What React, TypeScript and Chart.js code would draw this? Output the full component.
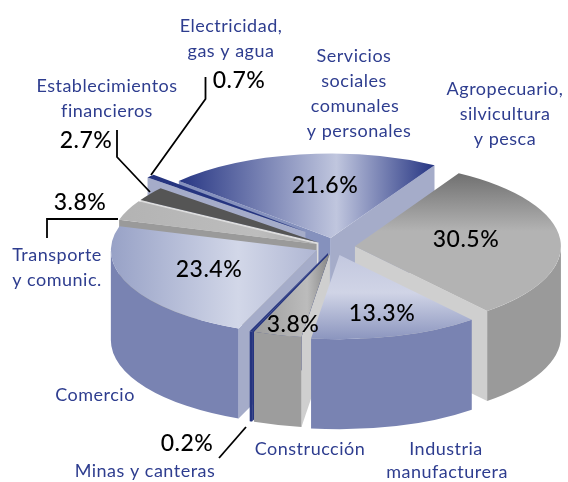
import React, { useEffect, useRef } from "react";
import { Chart, registerables } from "chart.js";

Chart.register(...registerables);

const categories = [
  "Servicios sociales comunales y personales",
  "Agropecuario, silvicultura y pesca",
  "Industria manufacturera",
  "Construcción",
  "Minas y canteras",
  "Comercio",
  "Transporte y comunic.",
  "Establecimientos financieros",
  "Electricidad, gas y agua",
];
const values = [21.6, 30.5, 13.3, 3.8, 0.2, 23.4, 3.8, 2.7, 0.7];

// Styling of the slices, same order as the values
const explode = [22, 21, 20, 16, 16, 19, 19, 19, 38];
const lift = [0, 0, 0, 0, 0, 0, 0, 0, 5];
const paintOrder = [0, 8, 7, 6, 1, 5, 4, 3, 2];
const wallColors = ["#7a85b3", "#9a9a9a", "#7983b2", "#9d9d9d", "#25347f", "#7983b2", "#8f8f8f", "#444444", "#a5acc9"];
const startFaces = ["#8591bd", "#cfcfcf", "#cfcfcf", "#cfcfcf", "#25347f", "#a5acc9", "#9a9a9a", "#dddddd", "#a5acc9"];
const endFaces = ["#a5acc9", "#cfcfcf", "#cfcfcf", "#cfcfcf", "#25347f", "#a5acc9", "#9a9a9a", "#dddddd", "#a5acc9"];
type Grad = { axis: "x" | "y"; from: number; to: number; stops: [number, string][] };
const topFills: Grad[] = [
  { axis: "x", from: -153, to: 103, stops: [[0, "#263583"], [0.62, "#c0c6de"], [1, "#263583"]] },
  { axis: "y", from: -74, to: -15, stops: [[0, "#6f6f6f"], [1, "#b3b3b3"]] },
  { axis: "y", from: 0, to: 84, stops: [[0, "#c3c8df"], [0.45, "#d0d4e6"], [1, "#8c96bf"]] },
  { axis: "x", from: -76, to: 0, stops: [[0, "#9c9c9c"], [0.7, "#bcbcbc"], [1, "#858585"]] },
  { axis: "x", from: -78, to: 0, stops: [[0, "#25347f"], [1, "#25347f"]] },
  { axis: "x", from: -207, to: 0, stops: [[0, "#97a1c6"], [0.62, "#d2d7e8"], [1, "#afb6d3"]] },
  { axis: "x", from: -197, to: 0, stops: [[0, "#b3b3b3"], [0.7, "#bdbdbd"], [1, "#a8a8a8"]] },
  { axis: "x", from: -178, to: 0, stops: [[0, "#555555"], [1, "#555555"]] },
  { axis: "x", from: -158, to: 0, stops: [[0, "#25347f"], [1, "#25347f"]] },
];

const RADIUS = 206;
const TILT = 0.41;
const DEPTH = 90;
const CENTER_X = 334;
const CENTER_Y = 247;

// Text
const BLUE = "#2e3d8f";
const NAME_FONT = "18px Lato";
const PCT_FONT = "500 23px Lato";
const nameLabels: [string, number, number][] = [
  ["Electricidad,", 231, 32],
  ["gas y agua", 231, 57],
  ["Establecimientos", 107, 92],
  ["financieros", 107, 117],
  ["Servicios", 354, 62],
  ["sociales", 354, 87],
  ["comunales", 355, 112],
  ["y personales", 359, 137],
  ["Agropecuario,", 505, 95],
  ["silvicultura", 505, 120],
  ["y pesca", 505, 145],
  ["Transporte", 57, 261],
  ["y comunic.", 57, 286],
  ["Comercio", 95, 401],
  ["Minas y canteras", 145, 477],
  ["Construcción", 310, 455],
  ["Industria", 446, 455],
  ["manufacturera", 447, 478],
];
const pctPlaces: [number, number][] = [
  [325, 193],
  [466, 247],
  [382, 321],
  [293, 332],
  [187, 451],
  [209, 277],
  [80, 210],
  [86, 148],
  [239, 88],
];
const leaders: [number, number][][] = [
  [[205.5, 77], [205.5, 99], [151, 175]],
  [[117, 130], [117, 157], [150, 192]],
  [[47, 238], [47, 219], [118, 219]],
  [[219, 458], [246, 427]],
];

const pie3d = {
  id: "pie3d",
  beforeDatasetDraw(chart: any) {
    const ctx: CanvasRenderingContext2D = chart.ctx;
    const arcs = chart.getDatasetMeta(0).data;
    const place = (i: number) => {
      const el = arcs[i];
      const mid = (el.startAngle + el.endAngle) / 2;
      return {
        ax: CENTER_X + Math.cos(mid) * explode[i],
        ay: CENTER_Y + Math.sin(mid) * explode[i] * TILT - lift[i],
      };
    };
    for (const i of paintOrder) {
      const el = arcs[i];
      const { ax, ay } = place(i);
      const R = el.outerRadius;
      const a = el.startAngle;
      const b = el.endAngle;
      const face = (ang: number, color: string) => {
        const rx = ax + Math.cos(ang) * R;
        const ry = ay + Math.sin(ang) * R * TILT;
        ctx.beginPath();
        ctx.moveTo(ax, ay);
        ctx.lineTo(rx, ry);
        ctx.lineTo(rx, ry + DEPTH);
        ctx.lineTo(ax, ay + DEPTH);
        ctx.closePath();
        ctx.fillStyle = color;
        ctx.fill();
      };
      if (-Math.cos(a) > 0) face(a, startFaces[i]);
      if (Math.cos(b) > 0) face(b, endFaces[i]);
      const w0 = Math.max(a, 0);
      const w1 = Math.min(b, Math.PI);
      if (w1 > w0) {
        ctx.beginPath();
        ctx.ellipse(ax, ay, R, R * TILT, 0, w0, w1);
        ctx.ellipse(ax, ay + DEPTH, R, R * TILT, 0, w1, w0, true);
        ctx.closePath();
        ctx.fillStyle = wallColors[i];
        ctx.fill();
      }
    }
    for (const i of paintOrder) {
      const el = arcs[i];
      const { ax, ay } = place(i);
      ctx.save();
      ctx.translate(ax, ay);
      ctx.scale(1, TILT);
      ctx.translate(-el.x, -el.y);
      el.draw(ctx);
      ctx.restore();
    }
    return false;
  },
  afterDatasetsDraw(chart: any) {
    const ctx: CanvasRenderingContext2D = chart.ctx;
    ctx.save();
    ctx.strokeStyle = "#000000";
    ctx.lineWidth = 1.8;
    for (const line of leaders) {
      ctx.beginPath();
      line.forEach(([x, y], n) => (n ? ctx.lineTo(x, y) : ctx.moveTo(x, y)));
      ctx.stroke();
    }
    ctx.textAlign = "center";
    ctx.textBaseline = "alphabetic";
    ctx.font = NAME_FONT;
    ctx.fillStyle = BLUE;
    (ctx as any).letterSpacing = "0.5px";
    for (const [t, x, y] of nameLabels) ctx.fillText(t, x, y);
    ctx.font = PCT_FONT;
    ctx.fillStyle = "#000000";
    values.forEach((v, i) => {
      const [x, y] = pctPlaces[i];
      ctx.fillText(v.toFixed(1) + "%", x, y);
    });
    ctx.restore();
  },
};

export default function App() {
  const ref = useRef<HTMLCanvasElement>(null);
  useEffect(() => {
    const chart = new Chart(ref.current!, {
      type: "pie",
      data: {
        labels: categories,
        datasets: [
          {
            data: values,
            borderWidth: 0,
            backgroundColor: (c: any) => {
              const g = topFills[c.dataIndex];
              const area = c.chart.chartArea;
              if (!area) return "#999999";
              const mx = (area.left + area.right) / 2;
              const my = (area.top + area.bottom) / 2;
              const grad =
                g.axis === "x"
                  ? c.chart.ctx.createLinearGradient(mx + g.from, 0, mx + g.to, 0)
                  : c.chart.ctx.createLinearGradient(0, my + g.from / TILT, 0, my + g.to / TILT);
              g.stops.forEach(([s, col]) => grad.addColorStop(s, col));
              return grad;
            },
          },
        ],
      },
      options: {
        animation: false,
        responsive: false,
        rotation: -47.5,
        radius: RADIUS,
        layout: { padding: 0 },
        events: [],
        plugins: { legend: { display: false }, tooltip: { enabled: false } },
      },
      plugins: [pie3d],
    } as any);
    return () => chart.destroy();
  }, []);
  return (
    <canvas
      ref={ref}
      width={568}
      height={482}
      style={{ position: "fixed", left: 0, top: 0, width: 568, height: 482 }}
    />
  );
}
